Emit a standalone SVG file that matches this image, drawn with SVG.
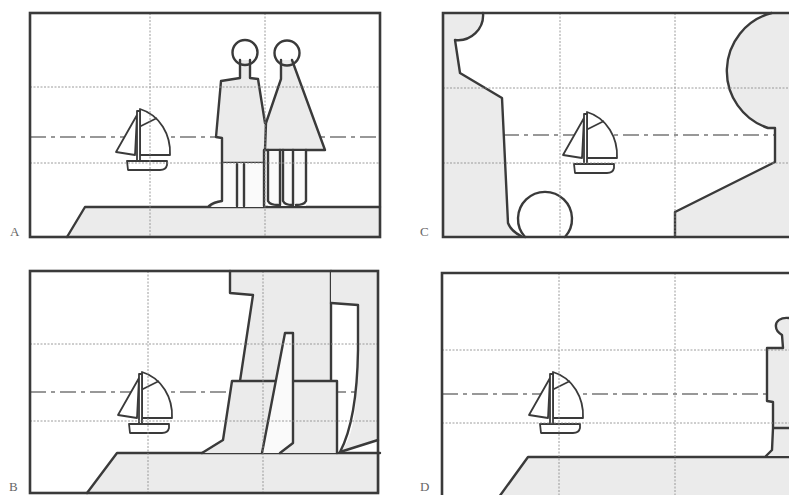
<svg xmlns="http://www.w3.org/2000/svg" width="789" height="495" viewBox="0 0 789 495">
  <defs>
    <style>
      .frame{fill:none;stroke:#3a3a3a;stroke-width:2.6}
      .ln{fill:none;stroke:#3a3a3a;stroke-width:2.4;stroke-linejoin:round;stroke-linecap:round}
      .sh{fill:#ebebeb;stroke:none}
      .shw{fill:#fafafa;stroke:none}
      .grid{fill:none;stroke:#8c8c8c;stroke-width:1;stroke-dasharray:2 1.5;opacity:.85}
      .hz{fill:none;stroke:#777;stroke-width:1.3;stroke-dasharray:16 5 4 5}
      .lbl{font-family:"Liberation Serif","DejaVu Serif",serif;font-size:13px;fill:#666}
      .boat path,.boat rect{stroke:#3a3a3a;stroke-width:1.8;stroke-linejoin:round;fill:#fff}
    </style>
    <!-- sailing boat, origin at the mast top -->
    <g id="boat" class="boat">
      <path d="M-3,6 L-24,43 L-5,46 Z"/>
      <path d="M0,0 C20,6 31,26 30,46 L0,46 Z"/>
      <path d="M-3,19 L17,9" fill="none"/>
      <rect x="-3" y="2" width="3" height="50"/>
      <path d="M-13,52 L27,52 L27,56 Q26,61 20,61 L-12,61 Z"/>
    </g>
  </defs>
  <rect width="789" height="495" fill="#fff"/>

  <!-- Panel A -->
  <g id="panelA">
    <line class="hz" x1="30" y1="137" x2="380" y2="137"/>
    <g id="groundA">
      <path class="sh" d="M85,207 L380,207 L380,237 L67,237 Z"/>
      <path class="ln" d="M67,237 L85,207 L380,207"/>
    </g>
    <use href="#boat" transform="translate(140,109)"/>
    <g id="man">
      <path class="sh" d="M240,60 L240,78 L221,81 L216,137 L222,138 L222,163 L264,163 L265,123 L258,79 L250,78 L250,60 Z"/>
      <path class="ln" d="M240,60 L240,78 L221,81 L216,137 L222,138 L222,163 L264,163 M265,123 L258,79 L250,78 L250,60"/>
      <path class="shw" d="M222,163 L264,163 L264,207 L210,207 L222,201 Z"/>
      <path class="ln" d="M222,163 L222,201 Q214,202 209,206 M237,164 L237,206 M244,164 L244,206 M264,150 L264,206"/>
      <circle class="ln" cx="245" cy="52.5" r="12.5" fill="#fff"/>
    </g>
    <g id="woman">
      <path class="sh" d="M281,60 L281,79 L266,123 L265,150 L325,150 L292,60 Z"/>
      <path class="ln" d="M281,60 L281,79 L266,123 L265,150 L325,150 L292,60"/>
      <path class="shw" d="M268,151 L306,151 L306,206 L268,206 Z"/>
      <path class="ln" d="M268,150 L268,201 Q270,205 278,205 M280,150 L280,205 M283,150 L283,201 Q285,205 292,205 M293,150 L293,205 M306,150 L306,201 Q304,205 296,205"/>
      <circle class="ln" cx="287" cy="53" r="12.5" fill="#fff"/>
    </g>
    <g class="grid">
      <line x1="150" y1="13" x2="150" y2="237"/>
      <line x1="265" y1="13" x2="265" y2="237"/>
      <line x1="30" y1="87" x2="380" y2="87"/>
      <line x1="30" y1="163" x2="380" y2="163"/>
    </g>
    <rect class="frame" x="30" y="13" width="350" height="224"/>
    <text class="lbl" x="10" y="236">A</text>
  </g>

  <!-- Panel C -->
  <g id="panelC">
    <line class="hz" x1="443" y1="135" x2="789" y2="135"/>
    <g id="shapeC-left">
      <path class="sh" d="M443,13 L483,13 A25,25 0 0 1 455,40 L460,73 L502,98 L508,223 Q511,231 521,236 L443,237 Z"/>
      <path class="ln" d="M483,13 A25,25 0 0 1 455,40 L460,73 L502,98 L508,223 Q511,231 521,236"/>
    </g>
    <g id="ball">
      <path class="ln" d="M525,237 A27,27 0 1 1 565,237" fill="#efefef"/>
    </g>
    <g id="shapeC-right">
      <path class="sh" d="M771.6,13 A60,60 0 0 0 768,128 L775,128 L775,162 L675,212 L675,237 L789,237 L789,13 Z"/>
      <path class="ln" d="M771.6,13 A60,60 0 0 0 768,128 L775,128 L775,162 L675,212 L675,237"/>
    </g>
    <use href="#boat" transform="translate(587,112)"/>
    <g class="grid">
      <line x1="560" y1="13" x2="560" y2="237"/>
      <line x1="675" y1="13" x2="675" y2="237"/>
      <line x1="443" y1="88" x2="789" y2="88"/>
      <line x1="443" y1="163" x2="789" y2="163"/>
    </g>
    <path class="frame" d="M795,13 L443,13 L443,237 L795,237"/>
    <text class="lbl" x="420" y="236">C</text>
  </g>

  <!-- Panel B -->
  <g id="panelB">
    <line class="hz" x1="30" y1="392" x2="380" y2="392"/>
    <g id="groundB">
      <path class="sh" d="M117,453 L380,453 L380,493 L87,493 Z"/>
      <path class="ln" d="M87,493 L117,453 L380,453"/>
    </g>
    <use href="#boat" transform="translate(142,372)"/>
    <g id="blockB-upper">
      <path class="sh" d="M230,271 L331,271 L331,381 L240,381 L253,295 L230,293 Z"/>
      <path class="ln" d="M230,271 L230,293 L253,295 L240,381 M331,271 L331,381"/>
    </g>
    <g id="blockB-right">
      <path class="sh" d="M331,271 L378,271 L378,440 L340,452 Q353,440 356,400 L358,305 L333,303 L331,303 Z"/>
      <path class="ln" d="M331,303 L358,305 L358,350 Q357,420 340,452 L378,440"/>
    </g>
    <g id="blockB-lower">
      <path class="sh" d="M232,381 L337,381 L337,453 L202,453 L223,440 Z"/>
      <path class="ln" d="M202,453 L223,440 L232,381 L337,381 L337,453"/>
    </g>
    <g id="pillarB">
      <path class="shw" d="M285,333 L293,333 L293,443 L280,453 L262,453 Z"/>
      <path class="ln" d="M262,453 L285,333 L293,333 L293,443 L280,453"/>
    </g>
    <g class="grid">
      <line x1="148" y1="271" x2="148" y2="493"/>
      <line x1="263" y1="271" x2="263" y2="493"/>
      <line x1="30" y1="344" x2="380" y2="344"/>
      <line x1="30" y1="421" x2="380" y2="421"/>
    </g>
    <rect class="frame" x="30" y="271" width="348" height="222"/>
    <text class="lbl" x="9" y="491">B</text>
  </g>

  <!-- Panel D -->
  <g id="panelD">
    <line class="hz" x1="442" y1="394" x2="789" y2="394"/>
    <g id="groundD">
      <path class="sh" d="M528,457 L789,457 L789,497 L500,497 Z"/>
      <path class="ln" d="M499,497 L528,457 L789,457"/>
    </g>
    <use href="#boat" transform="translate(553,372)"/>
    <g id="figureD">
      <path class="sh" d="M789,318 C781,317 775,321 776,327 C776,331 779,333 782,335 L783,348 L767,348 L767,401 L773,402 L773,428 L772,450 L766,456 L789,456 Z"/>
      <path class="ln" d="M789,318 C781,317 775,321 776,327 C776,331 779,333 782,335 L783,348 L767,348 L767,401 L773,402 L773,428 L772,450 L766,456 M773,428 L789,428"/>
    </g>
    <g class="grid">
      <line x1="559" y1="273" x2="559" y2="495"/>
      <line x1="675" y1="273" x2="675" y2="495"/>
      <line x1="442" y1="350" x2="789" y2="350"/>
      <line x1="442" y1="423" x2="789" y2="423"/>
    </g>
    <path class="frame" d="M795,273 L442,273 L442,500"/>
    <text class="lbl" x="420" y="491">D</text>
  </g>
</svg>
